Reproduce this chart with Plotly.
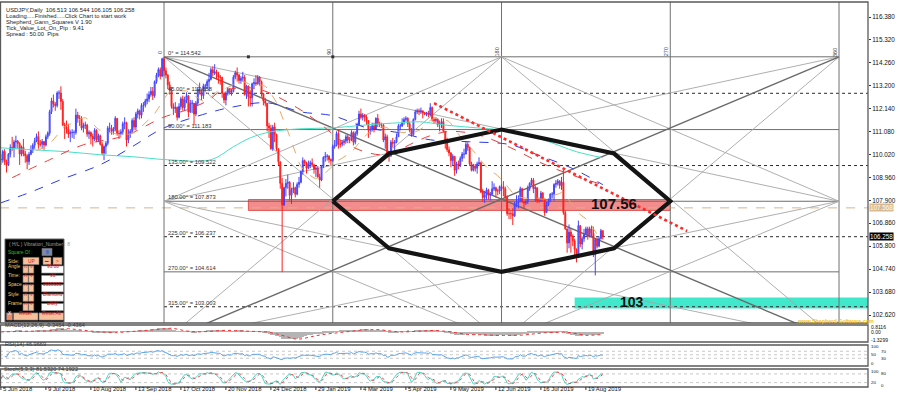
import numpy as np
import pandas as pd
import plotly.graph_objects as go

# ---------------------------------------------------------------- data
symbol_line = "USDJPY,Daily  106.513 106.544 106.105 106.258"
info_lines = ["Loading.....Finished.....Click Chart to start work",
              "Shepherd_Gann_Squares V 1.90",
              "Tick_Value_Lot_On_Pip : 9.41",
              "Spread : 50.00  Pips"]

open_first = 109.80
close = [
    109.79,110.17,109.70,109.55,110.04,110.35,110.34,110.61,110.65,110.54,110.05,110.37,110.07,109.97,109.70,110.04,110.25,110.46,110.66,
    110.86,110.50,110.50,110.63,110.47,110.85,111.02,112.01,112.51,112.36,112.29,112.87,112.87,112.48,111.40,111.30,111.20,110.98,111.05,111.05,111.05,111.85,
    111.70,111.68,111.25,111.38,111.39,110.98,111.05,110.87,110.75,111.15,110.70,110.90,110.50,110.10,110.40,110.55,111.25,111.25,111.10,111.20,111.70,111.00,111.00,
    111.08,111.45,111.50,110.70,111.00,111.10,111.60,111.30,111.90,112.05,111.85,112.30,112.30,112.50,112.60,112.80,112.95,112.75,113.40,113.70,
    113.95,113.65,114.45,113.90,113.70,113.25,113.00,112.25,112.15,112.20,111.75,112.25,112.60,112.20,112.55,112.75,112.00,112.40,112.40,111.90,112.40,113.05,112.90,
    112.75,113.20,113.20,113.40,113.50,113.95,113.80,113.85,113.75,113.60,113.60,112.85,112.55,112.85,113.05,112.90,112.95,113.60,113.80,113.70,113.45,113.55,
    113.60,112.80,113.20,112.70,112.65,113.30,113.35,113.30,113.60,113.40,112.85,112.50,112.40,111.35,111.25,110.30,111.30,110.95,110.30,109.70,
    108.70,107.70,108.50,108.70,108.75,108.15,108.40,108.50,108.20,108.65,108.75,109.25,109.75,109.65,109.40,109.60,109.65,109.55,109.35,109.40,109.00,108.85,
    109.50,109.90,109.95,109.95,109.80,109.75,110.40,110.45,111.00,110.50,110.50,110.60,110.65,110.85,110.70,110.70,111.05,110.60,111.00,111.40,
    111.90,111.75,111.85,111.75,111.60,111.15,111.20,111.35,111.20,111.70,111.45,111.40,111.40,110.70,110.85,109.95,109.95,110.60,110.55,110.60,110.85,
    111.35,111.35,111.50,111.65,111.70,111.45,111.15,110.95,111.65,112.00,112.05,112.00,112.05,111.95,111.90,111.95,111.85,112.20,111.65,111.60,111.65,111.40,
    111.45,111.55,111.10,110.70,110.25,110.10,109.75,109.95,109.30,109.60,109.55,109.85,110.05,110.05,110.50,110.35,109.60,109.30,109.50,109.40,109.60,109.65,108.30,
    108.05,108.15,108.40,108.15,108.20,108.45,108.50,108.35,108.35,108.55,108.55,108.45,108.05,107.30,107.30,107.30,107.20,107.75,107.80,107.85,
    108.45,107.85,107.80,107.85,108.45,108.70,108.85,108.45,108.50,107.90,107.90,108.25,107.95,107.35,107.70,107.85,108.20,108.20,108.65,108.70,108.80,108.60,108.75,
    107.35,106.60,105.95,106.45,106.25,106.05,105.65,105.30,106.75,105.90,106.15,106.35,106.60,106.25,106.60,106.40,105.40,106.10,105.80,106.15,106.513,106.258,
]
high = [
    110.05,110.25,110.28,109.80,110.10,110.50,110.85,110.70,110.90,110.70,110.60,110.45,110.75,110.20,110.05,110.15,110.45,110.55,110.80,
    111.00,111.10,110.70,110.75,110.65,110.95,111.10,112.10,112.65,112.80,112.45,112.95,113.00,113.18,112.60,111.50,111.60,111.45,111.15,111.20,111.15,112.15,
    112.00,111.85,111.80,111.50,111.55,111.45,111.15,111.10,111.00,111.25,111.20,111.00,110.95,110.60,110.45,110.65,111.35,111.50,111.40,111.30,111.80,111.70,111.15,
    111.20,111.55,111.75,111.55,111.20,111.20,111.70,111.75,112.00,112.15,112.10,112.40,112.45,112.60,112.85,112.95,113.15,113.15,113.45,113.80,
    114.05,114.05,114.50,114.54,114.05,113.75,113.40,113.15,112.40,112.45,112.25,112.40,112.70,112.75,112.70,112.90,112.75,112.55,112.55,112.40,112.50,113.15,113.35,
    113.05,113.30,113.30,113.50,113.80,114.05,114.10,114.20,113.95,113.85,113.70,113.60,112.90,112.95,113.15,113.10,113.05,113.70,113.90,114.05,113.75,113.65,
    113.85,113.70,113.25,113.20,113.00,113.35,113.55,113.70,113.70,113.65,113.45,112.85,112.65,112.00,111.50,111.40,111.40,111.50,111.00,110.30,
    109.65,108.95,108.55,108.90,109.10,108.80,108.50,108.75,108.55,108.75,109.00,109.30,109.90,109.80,109.70,109.75,109.75,109.85,109.60,109.50,109.50,109.15,
    109.55,109.95,110.15,110.05,110.00,109.85,110.50,110.70,111.10,111.15,110.70,110.70,110.75,110.95,110.95,110.85,111.15,111.10,111.10,111.50,
    112.05,112.15,111.95,111.90,111.85,111.60,111.35,111.50,111.50,111.75,111.90,111.55,111.50,111.45,111.00,110.95,110.15,110.70,110.80,110.70,111.00,
    111.45,111.45,111.70,111.75,111.80,111.75,111.55,111.25,111.70,112.10,112.15,112.15,112.20,112.05,112.00,112.00,112.05,112.40,112.25,111.75,111.75,111.70,
    111.60,111.70,111.70,110.95,110.80,110.40,110.15,110.05,109.95,109.70,109.75,109.95,110.15,110.30,110.65,110.60,110.40,109.70,109.60,109.60,109.70,109.90,109.70,
    108.45,108.35,108.50,108.45,108.30,108.80,108.70,108.55,108.45,108.60,108.65,108.80,108.55,108.15,107.55,107.45,107.55,107.85,108.15,108.15,
    108.55,108.50,107.90,107.95,108.60,108.75,108.95,108.95,108.60,108.50,108.05,108.35,108.30,108.00,107.85,108.00,108.25,108.30,108.70,108.85,108.90,108.85,109.00,
    109.32,107.45,106.55,106.80,106.60,106.35,106.15,105.70,106.98,106.75,106.25,106.60,106.70,106.70,106.70,106.75,106.70,106.15,106.20,106.25,106.60,106.544,
]
low = [
    109.55,109.65,109.55,109.20,109.50,109.90,110.20,109.90,110.30,110.30,109.55,109.95,109.95,109.65,109.35,109.55,110.00,110.10,110.30,
    110.60,110.30,110.40,110.30,110.25,110.40,110.75,110.90,111.90,112.20,112.05,112.20,112.60,112.10,111.35,110.75,111.00,110.80,110.60,110.80,110.75,110.95,
    111.50,111.35,111.15,111.05,111.20,110.85,110.75,110.50,110.40,110.65,110.60,110.60,110.45,110.00,109.77,110.05,110.45,111.05,110.95,110.95,111.10,110.90,110.75,
    110.90,110.95,111.20,110.40,110.55,110.80,111.00,111.15,111.15,111.70,111.65,111.70,112.00,112.20,112.35,112.45,112.70,112.55,112.65,113.30,
    113.60,113.50,113.60,113.65,113.55,113.05,112.80,112.15,111.85,111.95,111.60,111.70,112.10,112.05,112.05,112.40,111.75,111.95,111.95,111.38,111.80,112.30,112.80,
    112.55,112.60,112.95,113.05,112.95,113.45,113.65,113.70,113.50,113.30,113.25,112.65,112.40,112.30,112.75,112.80,112.75,112.90,113.50,113.40,113.30,113.30,
    113.40,112.75,112.60,112.25,112.25,112.25,113.05,113.20,113.25,113.20,112.70,112.30,112.25,111.10,110.80,110.25,110.20,110.60,110.20,109.55,
    108.45,104.60,107.65,108.10,108.45,107.90,107.75,108.25,108.05,108.15,108.50,108.70,109.10,109.55,109.15,109.35,109.40,109.45,109.15,109.00,108.95,108.50,
    108.80,109.40,109.70,109.75,109.65,109.55,109.70,110.30,110.40,110.30,110.35,110.40,110.45,110.55,110.55,110.55,110.65,110.45,110.50,110.90,
    111.35,111.65,111.60,111.55,111.40,110.80,110.95,111.10,111.05,111.15,111.30,111.30,111.25,110.60,110.30,109.90,109.70,109.95,110.35,110.10,110.55,
    110.85,111.15,111.30,111.40,111.55,111.30,111.05,110.85,110.90,111.60,111.90,111.85,111.90,111.70,111.85,111.80,111.75,111.80,111.55,111.45,111.50,111.30,
    111.10,111.25,111.05,110.30,110.15,109.95,109.45,109.50,109.05,109.15,109.35,109.45,109.70,109.85,110.05,110.20,109.50,109.25,109.25,109.25,109.15,109.50,108.25,
    107.85,107.80,107.95,107.95,107.90,108.15,108.35,108.05,108.15,108.20,108.35,108.10,107.95,107.20,107.05,107.05,106.78,107.15,107.60,107.55,
    107.90,107.80,107.55,107.70,107.75,108.35,108.60,108.25,107.85,107.80,107.80,107.85,107.85,107.20,107.40,107.65,107.85,108.00,107.90,108.50,108.60,108.45,108.40,
    107.25,106.55,105.50,105.70,105.50,105.80,105.30,105.05,105.25,105.75,105.65,106.00,106.30,106.10,106.20,106.25,105.30,104.45,105.70,105.75,106.10,106.105,
]

date_tick_bars = [0, 24, 48, 72, 96, 120, 144, 168, 192, 216, 240, 264, 288, 312]
date_tick_labels = ["5 Jun 2018", "9 Jul 2018", "10 Aug 2018", "13 Sep 2018", "17 Oct 2018",
                    "20 Nov 2018", "24 Dec 2018", "29 Jan 2019", "4 Mar 2019", "5 Apr 2019",
                    "9 May 2019", "12 Jun 2019", "16 Jul 2019", "19 Aug 2019"]
price_tick_labels = ["116.380", "115.320", "114.260", "113.200", "112.140", "111.080", "110.020",
                     "108.960", "107.900", "106.860", "105.800", "104.740", "103.680", "102.620"]

# moving averages (bar index, price)
ma_red_bars = [6, 26, 44, 62, 70, 86, 99, 111, 117, 133, 142, 158, 169, 181, 191, 202, 209, 220, 229, 240, 256, 272, 288, 304, 321]
ma_red_vals = [108.96, 109.79, 110.48, 110.80, 111.03, 111.73, 112.09, 112.55, 112.95, 113.11, 112.92, 112.19, 111.54,
               110.71, 110.25, 110.02, 110.11, 110.57, 110.90, 111.10, 110.90, 110.34, 109.65, 109.10, 108.64]
ma_blue_bars = [0, 16, 32, 53, 70, 86, 111, 124, 142, 160, 177, 195, 213, 229, 250, 272, 286, 304, 321]
ma_blue_vals = [107.80, 108.30, 108.87, 109.56, 110.39, 111.22, 111.96, 112.23, 112.42, 112.00, 111.82, 111.27,
                111.03, 110.71, 110.62, 110.48, 110.02, 109.42, 108.64]
ma_cyan_bars = [0, 17, 35, 53, 70, 89, 112, 124, 133, 144, 160, 177, 195, 213, 224, 236, 254, 266, 289, 307, 321]
ma_cyan_vals = [110.34, 110.25, 110.16, 110.02, 109.93, 109.79, 109.79, 110.39, 110.80, 111.08, 111.22, 111.26,
                111.40, 111.50, 111.54, 111.40, 111.26, 111.17, 110.71, 110.16, 109.88]

# Gann square
gann_origin_bar = 87
gann_times = [0, 90, 180, 270, 360]
gann_time_labels = ["0", "90", "180", "270", "360"]
gann_degrees = [0, 45, 90, 135, 180, 225, 270, 315, 360]
gann_prices = [114.542, 112.858, 111.183, 109.522, 107.873, 106.237, 104.614, 103.003, 101.405]
gann_diag_dark = [((0, 0), (360, 360)), ((0, 360), (360, 0))]
gann_diag_light = [((180, 0), (360, 180)), ((360, 180), (180, 360)), ((180, 360), (0, 180)), ((0, 180), (180, 0)),
                   ((0, 0), (360, 180)), ((0, 0), (180, 360)), ((360, 0), (0, 180)), ((360, 0), (180, 360)),
                   ((0, 360), (180, 0)), ((0, 360), (360, 180)), ((360, 360), (180, 0)), ((360, 360), (0, 180))]
octagon = [(90, 180), (120, 120), (180, 90), (240, 120), (270, 180), (240, 240), (180, 270), (120, 240), (90, 180)]

red_zone_t = [45, 270]
red_zone_prices = [107.45, 107.95]
red_zone_label = "107.56"
red_zone_label_pos = (327, 107.76)
cyan_zone_start_bar = 306
cyan_zone_prices = [102.92, 103.43]
cyan_zone_label = "103"
cyan_zone_label_pos = (336.5, 103.22)
trend_bars = [231, 366]
trend_prices = [112.40, 106.50]
tan_level = 107.568
last_price = 106.258

macd_label = "MACD(12,26,9) -0.3454 -0.4364"
rsi_label = "RSI(14) 46.9669"
stoch_label = "Stoch(5,3,3) 81.5320 74.1922"
macd_axis = [(0.8116, "0.8116"), (0.0, "0.00"), (-1.3299, "-1.3299")]
rsi_axis = [100, 70, 50, 30, 0]
stoch_axis = [100, 80, 20, 0]

ctrl_rows = ["Angle", "Time:", "Space", "Style", "Frame"]
ctrl_values = ["90.00", "90", "0000000", "Diamond", "Daily"]

# ---------------------------------------------------------------- derived
n = len(close)
bars = list(range(n))
open_ = [open_first] + close[:-1]
high = [max(h, o, c) for h, o, c in zip(high, open_, close)]
low = [min(l, o, c) for l, o, c in zip(low, open_, close)]

cs = pd.Series(close)
hs = pd.Series(high)
ls = pd.Series(low)
macd = cs.ewm(span=12, adjust=False).mean() - cs.ewm(span=26, adjust=False).mean()
macd_sig = macd.rolling(9, min_periods=1).mean()
delta = cs.diff().fillna(0)
up = delta.clip(lower=0).ewm(alpha=1 / 14, adjust=False).mean()
dn = (-delta.clip(upper=0)).ewm(alpha=1 / 14, adjust=False).mean()
rsi = 100 - 100 / (1 + up / dn.replace(0, np.nan))
ll = ls.rolling(5, min_periods=1).min()
hh = hs.rolling(5, min_periods=1).max()
stoch_k = 100 * (cs - ll).rolling(3, min_periods=1).sum() / (hh - ll).rolling(3, min_periods=1).sum()
stoch_d = stoch_k.rolling(3, min_periods=1).mean()
ma_tan = cs.rolling(20).mean()

# ---------------------------------------------------------------- geometry
W, H = 868.0, 400.0
def PX(p): return p / W
def PY(p): return 1.0 - p / H

X_MIN, X_MAX = -0.48, 462.45
Y_MIN, Y_MAX = 102.2526, 117.0725
FONT = "Liberation Sans"

def gbar(t): return gann_origin_bar + t
def gprice(d): return float(np.interp(d, gann_degrees, gann_prices))

fig = go.Figure()

# moving averages
fig.add_trace(go.Scatter(x=ma_cyan_bars, y=ma_cyan_vals, mode="lines", line=dict(color="#48e0c4", width=1, shape="spline"),
                         hoverinfo="skip", showlegend=False))
fig.add_trace(go.Scatter(x=ma_blue_bars, y=ma_blue_vals, mode="lines",
                         line=dict(color="#2b3be6", width=1, dash="dash", shape="spline"), hoverinfo="skip", showlegend=False))
fig.add_trace(go.Scatter(x=ma_red_bars, y=ma_red_vals, mode="lines",
                         line=dict(color="#ee3b3b", width=1, dash="dash", shape="spline"), hoverinfo="skip", showlegend=False))
fig.add_trace(go.Scatter(x=bars, y=ma_tan, mode="lines", line=dict(color="#e8a868", width=1, dash="dash"),
                         hoverinfo="skip", showlegend=False))

fig.add_trace(go.Candlestick(x=bars, open=open_, high=high, low=low, close=close,
                             increasing=dict(line=dict(color="#4444ff", width=1), fillcolor="#8080ff"),
                             decreasing=dict(line=dict(color="#ff1f1f", width=1), fillcolor="#ff1f1f"),
                             whiskerwidth=0, hoverinfo="skip", showlegend=False, xaxis="x", yaxis="y"))

# thick octagon
fig.add_trace(go.Scatter(x=[gbar(t) for t, d in octagon], y=[gprice(d) for t, d in octagon],
                         mode="lines", line=dict(color="#141414", width=4.2), hoverinfo="skip",
                         showlegend=False, xaxis="x", yaxis="y"))

# small anchor markers
fig.add_trace(go.Scatter(x=[gbar(45), gbar(90)], y=[gann_prices[0]] * 2, mode="markers",
                         marker=dict(symbol="square", size=3, color="#333"), hoverinfo="skip", showlegend=False))

# MACD panel
fig.add_trace(go.Bar(x=bars, y=macd, marker=dict(color="#b4b4b4", line=dict(width=0)), width=0.6,
                     hoverinfo="skip", showlegend=False, xaxis="x2", yaxis="y2"))
fig.add_trace(go.Scatter(x=bars, y=macd_sig, mode="lines", line=dict(color="#f03030", width=1, dash="dot"),
                         hoverinfo="skip", showlegend=False, xaxis="x2", yaxis="y2"))
# RSI panel
fig.add_trace(go.Scatter(x=bars, y=rsi, mode="lines", line=dict(color="#5aa6ee", width=1),
                         hoverinfo="skip", showlegend=False, xaxis="x3", yaxis="y3"))
# Stochastic panel
fig.add_trace(go.Scatter(x=bars, y=stoch_k, mode="lines", line=dict(color="#45d6c8", width=1),
                         hoverinfo="skip", showlegend=False, xaxis="x4", yaxis="y4"))
fig.add_trace(go.Scatter(x=bars, y=stoch_d, mode="lines", line=dict(color="#f04848", width=1, dash="dot"),
                         hoverinfo="skip", showlegend=False, xaxis="x4", yaxis="y4"))

shapes = []
ann = []

# zones (background)
shapes.append(dict(type="rect", xref="x", yref="y", x0=gbar(red_zone_t[0]), x1=gbar(red_zone_t[1]),
                   y0=red_zone_prices[0], y1=red_zone_prices[1], fillcolor="rgba(238,96,96,0.72)",
                   line=dict(color="rgba(225,70,70,0.9)", width=1), layer="below"))
shapes.append(dict(type="rect", xref="x", yref="y", x0=cyan_zone_start_bar, x1=X_MAX,
                   y0=cyan_zone_prices[0], y1=cyan_zone_prices[1], fillcolor="#42e8cc",
                   line=dict(width=0), layer="below"))
shapes.append(dict(type="line", xref="x", yref="y", x0=X_MIN, x1=X_MAX, y0=tan_level, y1=tan_level,
                   line=dict(color="#d8b488", width=1, dash="dash"), layer="below"))

# Gann levels
for d, p in zip(gann_degrees[:-1], gann_prices[:-1]):
    solid = (d % 90 == 0)
    shapes.append(dict(type="line", xref="x", yref="y", x0=gbar(0), x1=gbar(360) if solid else X_MAX, y0=p, y1=p,
                       line=dict(color="#6e6e6e" if solid else "#2a2a2a", width=1, dash="solid" if solid else "dot"),
                       layer="below"))
    lab = "0° = %.3f" % p if d == 0 else "%.2f° = %.3f" % (d, p)
    ann.append(dict(x=gbar(0) + 1, y=p, xref="x", yref="y", text=lab, showarrow=False, xanchor="left",
                    yanchor="bottom", yshift=-1, font=dict(family=FONT, size=5.8, color="#333")))
for t, tl in zip(gann_times, gann_time_labels):
    shapes.append(dict(type="line", xref="x", yref="y", x0=gbar(t), x1=gbar(t), y0=Y_MIN, y1=Y_MAX,
                       line=dict(color="#707070", width=1), layer="below"))
    ann.append(dict(x=gbar(t) - 2.2, y=gann_prices[0] + 0.22, xref="x", yref="y", text=tl, showarrow=False,
                    textangle=-90, font=dict(family=FONT, size=5.5, color="#444")))
for (a, b) in gann_diag_light:
    shapes.append(dict(type="line", xref="x", yref="y", x0=gbar(a[0]), y0=gprice(a[1]), x1=gbar(b[0]), y1=gprice(b[1]),
                       line=dict(color="#a6a6a6", width=0.9), layer="below"))
for (a, b) in gann_diag_dark:
    shapes.append(dict(type="line", xref="x", yref="y", x0=gbar(a[0]), y0=gprice(a[1]), x1=gbar(b[0]), y1=gprice(b[1]),
                       line=dict(color="#6a6a6a", width=1.4), layer="below"))

# red dotted trend line
shapes.append(dict(type="line", xref="x", yref="y", x0=trend_bars[0], x1=trend_bars[1], y0=trend_prices[0],
                   y1=trend_prices[1], line=dict(color="#ff2a2a", width=2.6, dash="dot")))

ann.append(dict(x=red_zone_label_pos[0], y=red_zone_label_pos[1], xref="x", yref="y",
                text="<b>%s</b>" % red_zone_label, showarrow=False, font=dict(family=FONT, size=15, color="#111")))
ann.append(dict(x=cyan_zone_label_pos[0], y=cyan_zone_label_pos[1], xref="x", yref="y",
                text="<b>%s</b>" % cyan_zone_label, showarrow=False, font=dict(family=FONT, size=14, color="#111")))
ann.append(dict(x=423.5, y=102.36, xref="x", yref="y", text="<b>www.Shepherd-Software.com</b>", showarrow=False,
                xanchor="left", font=dict(family=FONT, size=5.4, color="#f2c21a")))

# right-side price tags
ann.append(dict(x=PX(869), y=tan_level, xref="paper", yref="y", text="107.568", showarrow=False, xanchor="left",
                bgcolor="#d9b991", borderpad=0, font=dict(family=FONT, size=6.3, color="#ffffff")))
ann.append(dict(x=PX(869), y=last_price, xref="paper", yref="y", text="%.3f" % last_price, showarrow=False,
                xanchor="left", bgcolor="#000000", borderpad=0, font=dict(family=FONT, size=6.3, color="#ffffff")))

# panel frames
for y0, y1 in [(2, 323), (325, 342), (345, 366), (369, 387)]:
    shapes.append(dict(type="rect", xref="paper", yref="paper", x0=PX(0.5), x1=PX(868), y0=PY(y1), y1=PY(y0),
                       line=dict(color="#5a5a5a", width=1.3), fillcolor="rgba(0,0,0,0)"))
# indicator grid lines
for v in [70, 50, 30]:
    shapes.append(dict(type="line", xref="paper", yref="y3", x0=0, x1=1, y0=v, y1=v,
                       line=dict(color="#c8c8c8", width=1, dash="dot"), layer="below"))
for v in [80, 20]:
    shapes.append(dict(type="line", xref="paper", yref="y4", x0=0, x1=1, y0=v, y1=v,
                       line=dict(color="#c8c8c8", width=1, dash="dot"), layer="below"))

# indicator labels and scales
ann.append(dict(x=PX(3), y=PY(330), xref="paper", yref="paper", text=macd_label, showarrow=False, xanchor="left",
                font=dict(family=FONT, size=5.6, color="#333")))
ann.append(dict(x=PX(3), y=PY(348.5), xref="paper", yref="paper", text=rsi_label, showarrow=False, xanchor="left",
                font=dict(family=FONT, size=5.6, color="#333")))
ann.append(dict(x=PX(2), y=PY(374), xref="paper", yref="paper", text=stoch_label, showarrow=False, xanchor="left",
                font=dict(family=FONT, size=5.6, color="#333")))
for v, t in macd_axis:
    ann.append(dict(x=PX(870), y=v, xref="paper", yref="y2", text=t, showarrow=False, xanchor="left",
                    borderpad=0, font=dict(family=FONT, size=5.0, color="#111")))
for i, v in enumerate(rsi_axis):
    ann.append(dict(x=PX(870 + (10 if i % 2 else 0)), y=v, xref="paper", yref="y3", text=str(v), showarrow=False,
                    xanchor="left", borderpad=0, font=dict(family=FONT, size=4.4, color="#111")))
for i, v in enumerate(stoch_axis):
    ann.append(dict(x=PX(870 + (10 if i % 2 else 0)), y=v, xref="paper", yref="y4", text=str(v), showarrow=False,
                    xanchor="left", borderpad=0, font=dict(family=FONT, size=4.4, color="#111")))

# date axis
for b, t in zip(date_tick_bars, date_tick_labels):
    shapes.append(dict(type="line", xref="x", yref="paper", x0=b, x1=b, y0=PY(390), y1=PY(387),
                       line=dict(color="#333", width=1)))
    ann.append(dict(x=b, y=PY(394), xref="x", yref="paper", text=t, showarrow=False, xanchor="left",
                    xshift=0, font=dict(family=FONT, size=5.9, color="#111")))

# top-left info text
for i, t in enumerate([symbol_line] + info_lines):
    ann.append(dict(x=PX(4), y=PY(5 + 6.1 * i), xref="paper", yref="paper", text=t, showarrow=False,
                    xanchor="left", font=dict(family=FONT, size=5.8, color="#222")))

# control panel
def box(x0, x1, yc, fill, line="#777"):
    shapes.append(dict(type="rect", xref="paper", yref="paper", x0=PX(x0), x1=PX(x1), y0=PY(yc + 3.6),
                       y1=PY(yc - 3.6), fillcolor=fill, line=dict(color=line, width=0.6)))

def txt(x, yc, t, color, size=4.8, anchor="left"):
    ann.append(dict(x=PX(x), y=PY(yc), xref="paper", yref="paper", text=t, showarrow=False, xanchor=anchor,
                    borderpad=0, font=dict(family=FONT, size=size, color=color)))

shapes.append(dict(type="rect", xref="paper", yref="paper", x0=PX(5), x1=PX(64), y0=PY(322), y1=PY(239),
                   fillcolor="#000000", line=dict(color="#666", width=1)))
txt(7.5, 244.5, "( H/L ) Vibration_Number : 8", "#9c9c9c", 4.9)
txt(7, 252, "Square Of :", "#22c022")
box(42, 52, 252, "#7d8aa0")
txt(47, 252, "8", "#1a3cff", 4.8, "center")
txt(7, 261, "Side:", "#e6d06c")
box(23, 39, 261, "#f5c09a")
txt(31, 261, "UP", "#e01010", 4.8, "center")
box(43, 51, 261, "#f5c09a")
txt(47, 261, "▬", "#e01010", 3.6, "center")
box(53, 62, 261, "#f5c09a")
txt(57.5, 261, ">", "#e01010", 4.8, "center")
for i, (r, v) in enumerate(zip(ctrl_rows, ctrl_values)):
    yc = 269.5 + 9.4 * i
    txt(6.5, yc, r, "#e6d06c")
    box(23, 28.2, yc, "#f5c09a")
    txt(25.6, yc, "Λ", "#e01010", 4.4, "center")
    box(28.6, 33.8, yc, "#f5c09a")
    txt(31.2, yc, "V", "#e01010", 4.4, "center")
    box(41.5, 63.5, yc, "#ffffff")
    txt(52.5, yc, v, "#e01010", 4.8, "center")
box(6.5, 12.5, 316.5, "#f08a6a")
txt(9.5, 316.5, "X", "#ffffff", 4.8, "center")
box(13.5, 38, 316.5, "#f5c09a")
txt(25.7, 316.5, "Reset", "#e01010", 4.8, "center")
box(39, 63.5, 316.5, "#f5c09a")
txt(51.2, 316.5, "Reset All", "#e01010", 4.8, "center")

xcommon = dict(range=[X_MIN, X_MAX], showgrid=False, zeroline=False, showticklabels=False, ticks="",
               showline=False, fixedrange=True)
ycommon = dict(showgrid=False, zeroline=False, showticklabels=False, ticks="", fixedrange=True)

fig.update_layout(
    width=900, height=400,
    margin=dict(l=0, r=32, t=0, b=0),
    paper_bgcolor="#ffffff", plot_bgcolor="#ffffff",
    showlegend=False, hovermode=False, bargap=0,
    xaxis=dict(xcommon, anchor="y", rangeslider=dict(visible=False)),
    xaxis2=dict(xcommon, anchor="y2", matches="x"),
    xaxis3=dict(xcommon, anchor="y3", matches="x"),
    xaxis4=dict(xcommon, anchor="y4", matches="x"),
    yaxis=dict(domain=[PY(323), PY(2)], range=[Y_MIN, Y_MAX], side="right", anchor="x",
               tickvals=[float(s) for s in price_tick_labels], ticktext=price_tick_labels,
               tickfont=dict(family=FONT, size=6.4, color="#111"), ticks="outside", ticklen=2,
               tickcolor="#333", showline=False, showgrid=False, zeroline=False, fixedrange=True),
    yaxis2=dict(ycommon, domain=[PY(340), PY(327)], range=[-1.3299, 0.8116], anchor="x2"),
    yaxis3=dict(ycommon, domain=[PY(363.5), PY(346)], range=[0, 100], anchor="x3"),
    yaxis4=dict(ycommon, domain=[PY(385.5), PY(371)], range=[0, 100], anchor="x4"),
    shapes=shapes,
    annotations=ann,
)

fig.write_html("out.html", config={"displayModeBar": False},
               post_script="document.body.style.margin='0px';document.body.style.padding='0px';")
